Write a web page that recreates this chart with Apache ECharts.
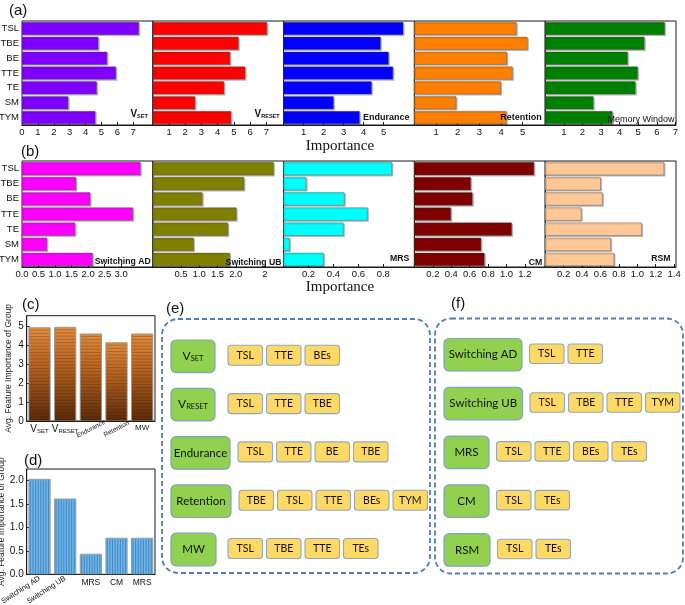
<!DOCTYPE html>
<html><head><meta charset="utf-8">
<script src="https://cdn.jsdelivr.net/npm/echarts@6/dist/echarts.min.js"></script>
<style>html,body{margin:0;padding:0;background:#fff}#c{width:685px;height:605px}</style>
</head><body><div id="c"></div><script>
// ---------------- DATA ----------------
const features = ['TSL','TBE','BE','TTE','TE','SM','TYM'];
// (a)
const vset         = [7.34, 4.79, 5.34, 5.90, 4.69, 2.90, 4.60];
const vreset       = [7.02, 5.27, 4.75, 5.68, 4.38, 2.59, 4.81];
const endurance    = [5.97, 4.84, 5.24, 5.46, 4.39, 2.49, 3.79];
const retention    = [4.70, 5.21, 4.26, 4.52, 3.98, 1.92, 4.24];
const memoryWindow = [6.41, 5.32, 4.42, 4.96, 4.84, 2.58, 3.60];
// (b)
const switchingAD  = [3.58, 1.63, 2.06, 3.35, 1.60, 0.75, 2.13];
const switchingUB  = [3.03, 2.22, 1.08, 2.01, 1.78, 0.84, 1.83];
const mrs          = [0.868, 0.18, 0.487, 0.672, 0.479, 0.046, 0.319];
const cm           = [1.297, 0.61, 0.628, 0.394, 1.055, 0.722, 0.758];
const rsm          = [1.288, 0.60, 0.62, 0.39, 1.046, 0.71, 0.746];
// tick values / labels
const ticksVset = [0,1,2,3,4,5,6,7];
const ticksVreset = [1,2,3,4,5,6,7];
const ticksEndurance = [1,2,3,4,5];
const ticksRetention = [1,2,3,4,5];
const ticksMW = [1,2,3,4,5,6,7];
const ticksAD = [0,0.5,1,1.5,2,2.5,3];
const ticksUB = [0.5,1,1.5,2,2.8];
const labelsUB = ['0.5','1.0','1.5','2.0','2'];
const ticksMRS = [0.2,0.4,0.6,0.8];
const ticksCM = [0.2,0.4,0.6,0.8,1.0,1.2];
const ticksRSM = [0.2,0.4,0.6,0.8,1.0,1.2,1.4];
// (c), (d)
const groupsC = ['V_SET','V_RESET','Endurance','Retention','MW'];
const avgC = [4.91, 4.93, 4.58, 4.12, 4.58];
const ticksC = [0,1,2,3,4,5];
const groupsD = ['Switching AD','Switching UB','MRS','CM','MRS'];
const avgD = [2.03, 1.61, 0.43, 0.77, 0.77];
const ticksD = [0,0.5,1,1.5,2];
// (e), (f)
const eGroups = ['V_SET','V_RESET','Endurance','Retention','MW'];
const eFeatures = [['TSL','TTE','BEs'],['TSL','TTE','TBE'],['TSL','TTE','BE','TBE'],['TBE','TSL','TTE','BEs','TYM'],['TSL','TBE','TTE','TEs']];
const fGroups = ['Switching AD','Switching UB','MRS','CM','RSM'];
const fFeatures = [['TSL','TTE'],['TSL','TBE','TTE','TYM'],['TSL','TTE','BEs','TEs'],['TSL','TEs'],['TSL','TEs']];

// ---------------- STYLE / LAYOUT ----------------
const FONT = '"Liberation Sans", Arial, sans-serif';
const SERIF = '"Liberation Serif", "Times New Roman", serif';
const DFONT = 'Lato, "Open Sans", sans-serif';
const A_LEFT = 22, A_W = 130.8, A_TOP = 21, A_H = 104, B_TOP = 161, B_H = 106;

const panelsA = [
  {values: vset, ticks: ticksVset, min: 0, max: 8.23, color: '#8000FF', label: 'V_SET', pad: 5, bold: true, ly: 114},
  {values: vreset, ticks: ticksVreset, min: 0, max: 8.06, color: '#FF0000', label: 'V_RESET', pad: 4, bold: true, ly: 114},
  {values: endurance, ticks: ticksEndurance, min: 0, max: 6.54, color: '#0000FF', label: 'Endurance', pad: 5, bold: true, ly: 118},
  {values: retention, ticks: ticksRetention, min: 0, max: 6.04, color: '#FF8000', label: 'Retention', pad: 3.5, bold: true, ly: 118},
  {values: memoryWindow, ticks: ticksMW, min: 0, max: 7.03, color: '#008000', label: 'Memory Window', pad: 1.5, bold: false, ly: 119.5}
];
const panelsB = [
  {values: switchingAD, ticks: ticksAD, labels: ticksAD.map(v=>v.toFixed(1)), min: 0, max: 3.96, color: '#FF00FF', label: 'Switching AD', pad: 2, ly: 262},
  {values: switchingUB, ticks: ticksUB, labels: labelsUB, min: -0.274, max: 3.31, color: '#808000', label: 'Switching UB', pad: 2, ly: 262.5},
  {values: mrs, ticks: ticksMRS, labels: ticksMRS.map(v=>v.toFixed(1)), min: 0, max: 1.05, color: '#00FFFF', label: 'MRS', pad: 5, ly: 259},
  {values: cm, ticks: ticksCM, labels: ticksCM.map(v=>v.toFixed(1)), min: 0, max: 1.42, color: '#800000', label: 'CM', pad: 3, ly: 262.5},
  {values: rsm, ticks: ticksRSM, labels: ticksRSM.map(v=>v.toFixed(1)), min: 0, max: 1.42, color: '#FFC896', label: 'RSM', pad: 5.5, ly: 259}
];

function subRich(txt) {
  const k = txt.indexOf('_');
  return k < 0 ? txt : '{v|' + txt.slice(0, k) + '}{s|' + txt.slice(k + 1) + '}';
}

function hbar(color) {
  return function (params, api) {
    const cs = params.coordSys;
    const p = api.coord([api.value(0), api.value(1)]);
    const band = api.size([0, 1])[1];
    const h = band * 0.84;
    return {type: 'rect', shape: {x: cs.x, y: p[1] - h / 2, width: p[0] - cs.x, height: h},
      style: {fill: color, stroke: 'rgba(70,70,70,0.55)', lineWidth: 0.7,
        shadowColor: 'rgba(0,0,0,0.28)', shadowOffsetX: 1.3, shadowOffsetY: 1.2, shadowBlur: 0}};
  };
}
function renderC(params, api) {
  const cs = params.coordSys;
  const p = api.coord([api.value(0), api.value(1)]);
  const w = api.size([1, 0])[0] * 0.83;
  const x = p[0] - w / 2, y0 = p[1], base = cs.y + cs.height;
  const ch = [{type: 'rect', shape: {x, y: y0, width: w, height: base - y0},
    style: {fill: new echarts.graphic.LinearGradient(0, 0, 0, 1, [
      {offset: 0, color: '#E38C3E'}, {offset: 0.45, color: '#B0601F'}, {offset: 1, color: '#5A2A0A'}]),
      stroke: 'rgba(150,150,150,0.9)', lineWidth: 1}}];
  for (let yy = y0 + 2.5; yy < base - 0.5; yy += 3.2) {
    ch.push({type: 'line', shape: {x1: x + 0.5, y1: yy, x2: x + w - 0.5, y2: yy}, style: {stroke: 'rgba(60,22,0,0.3)', lineWidth: 0.8}});
  }
  return {type: 'group', children: ch};
}
function renderD(params, api) {
  const cs = params.coordSys;
  const p = api.coord([api.value(0), api.value(1)]);
  const w = api.size([1, 0])[0] * 0.83;
  const x = p[0] - w / 2, y0 = p[1], base = cs.y + cs.height;
  const ch = [{type: 'rect', shape: {x, y: y0, width: w, height: base - y0},
    style: {fill: '#6DB6E7', stroke: 'rgba(150,150,150,0.9)', lineWidth: 1}}];
  for (let xx = x + 1.5; xx < x + w - 0.5; xx += 2.6) {
    ch.push({type: 'line', shape: {x1: xx, y1: y0 + 1, x2: xx, y2: base}, style: {stroke: 'rgba(30,95,165,0.6)', lineWidth: 0.9}});
  }
  return {type: 'group', children: ch};
}

const grids = [], xAxes = [], yAxes = [], series = [], graphics = [];
function lab(ticks, labels, v) {
  for (let i = 0; i < ticks.length; i++) if (Math.abs(ticks[i] - v) < 1e-6) return labels ? labels[i] : String(ticks[i]);
  return '';
}
function addHPanel(p, row, col) {
  const idx = grids.length;
  const left = A_LEFT + col * A_W;
  const top = row === 0 ? A_TOP : B_TOP;
  const height = row === 0 ? A_H : B_H;
  grids.push({left, top, width: A_W, height, show: true, borderColor: '#1a1a1a', borderWidth: 1, containLabel: false, outerBoundsMode: 'none'});
  xAxes.push({type: 'value', gridIndex: idx, min: p.min, max: p.max, position: 'bottom',
    axisLine: {show: true, onZero: false, lineStyle: {color: '#1a1a1a', width: 1}},
    axisTick: {show: true, inside: true, length: 3, customValues: p.ticks, lineStyle: {color: '#1a1a1a'}},
    axisLabel: {show: true, customValues: p.ticks, margin: 2, fontSize: 9.5, fontFamily: FONT, color: '#111',
      showMinLabel: true, showMaxLabel: true, hideOverlap: false, formatter: v => lab(p.ticks, p.labels, v)},
    splitLine: {show: false}});
  yAxes.push({type: 'category', gridIndex: idx, data: features, inverse: true,
    axisLine: {show: false}, axisTick: {show: true, inside: true, length: 2, alignWithLabel: true, lineStyle: {color: '#1a1a1a'}},
    axisLabel: {show: col === 0, interval: 0, margin: 3, fontSize: 9.5, fontFamily: FONT, color: '#111'}, splitLine: {show: false}});
  series.push({type: 'custom', xAxisIndex: idx, yAxisIndex: idx, encode: {x: 0, y: 1}, clip: true,
    data: p.values.map((v, i) => [v, i]), renderItem: hbar(p.color)});
  // inner label
  const right = left + A_W - p.pad;
  if (row === 0) {
    graphics.push({type: 'text', z: 100, x: right, y: p.ly, style: {text: subRich(p.label), align: 'right', verticalAlign: 'middle',
      fontSize: 9, fontWeight: p.bold ? 'bold' : 'normal', fontFamily: FONT, fill: '#111',
      rich: {v: {fontSize: 10, fontWeight: 'bold', fontFamily: FONT, fill: '#111'}, s: {fontSize: 5.5, fontWeight: 'bold', fontFamily: FONT, fill: '#111', verticalAlign: 'bottom'}}}});
  } else {
    graphics.push({type: 'text', z: 100, x: right, y: p.ly, style: {text: p.label, align: 'right', verticalAlign: 'middle',
      fontSize: 8.7, fontWeight: 'bold', fontFamily: FONT, fill: '#111'}});
  }
}
panelsA.forEach((p, i) => { p.labels = p.ticks.map(String); addHPanel(p, 0, i); });
panelsB.forEach((p, i) => addHPanel(p, 1, i));

// (c) & (d)
const richSub = {v: {fontSize: 10, fontFamily: FONT, color: '#111'}, s: {fontSize: 6, fontFamily: FONT, color: '#111', verticalAlign: 'bottom'}};
function addVPanel(cfg) {
  const idx = grids.length;
  grids.push({left: 26.7, top: cfg.top, width: 128.3, height: 105.3, show: true, borderColor: '#1a1a1a', borderWidth: 1, containLabel: false, outerBoundsMode: 'none'});
  const xi = xAxes.length;
  xAxes.push({type: 'category', gridIndex: idx, data: cfg.groups, position: 'bottom',
    axisLine: {show: true, lineStyle: {color: '#1a1a1a'}}, axisTick: {show: false},
    axisLabel: {interval: 0, margin: cfg.hMargin, fontSize: cfg.hSize, fontFamily: FONT, color: '#111', hideOverlap: false,
      formatter: (v, i) => cfg.hIdx.includes(i) ? subRich(v) : '', rich: richSub}});
  xAxes.push({type: 'category', gridIndex: idx, data: cfg.groups, position: 'bottom',
    axisLine: {show: false}, axisTick: {show: false},
    axisLabel: Object.assign({interval: 0, rotate: cfg.rot, margin: cfg.rMargin, fontSize: cfg.rSize, fontFamily: FONT, color: '#111', hideOverlap: false,
      formatter: (v, i) => cfg.rIdx.includes(i) ? v : ''}, cfg.rAlign)});
  yAxes.push({type: 'value', gridIndex: idx, min: 0, max: cfg.max,
    name: 'Avg. Feature Importance of Group', nameLocation: 'middle', nameGap: 14,
    nameTextStyle: {fontSize: 8.5, fontFamily: FONT, color: '#222'},
    axisLine: {show: true, lineStyle: {color: '#1a1a1a'}},
    axisTick: {show: true, inside: true, length: 3, customValues: cfg.ticks, lineStyle: {color: '#1a1a1a'}},
    axisLabel: {customValues: cfg.ticks, margin: 3, fontSize: 10, fontFamily: FONT, color: '#111', showMaxLabel: true,
      formatter: v => cfg.ticks.some(t => Math.abs(t - v) < 1e-6) ? cfg.fmt(v) : ''},
    splitLine: {show: false}});
  series.push({type: 'custom', xAxisIndex: xi, yAxisIndex: yAxes.length - 1, encode: {x: 0, y: 1}, clip: true,
    data: cfg.values.map((v, i) => [i, v]), renderItem: cfg.render});
}
addVPanel({top: 315.7, groups: groupsC, values: avgC, max: 5.54, ticks: ticksC, fmt: v => String(v), render: renderC,
  hIdx: [0, 1, 4], rIdx: [2, 3], hMargin: 3, hSize: 8, rot: 27, rMargin: 8, rSize: 6.5, rAlign: {align: 'center', verticalAlign: 'middle'}});
addVPanel({top: 469, groups: groupsD, values: avgD, max: 2.25, ticks: ticksD, fmt: v => v.toFixed(1), render: renderD,
  hIdx: [2, 3, 4], rIdx: [0, 1], hMargin: 4, hSize: 8.5, rot: 33, rMargin: 3.5, rSize: 7.5, rAlign: {}});

// titles & axis titles
[['(a)', 9, 11], ['(b)', 21, 152], ['(c)', 22, 305], ['(d)', 24, 461], ['(e)', 166, 309], ['(f)', 451, 304]].forEach(t => {
  graphics.push({type: 'text', z: 100, x: t[1], y: t[2], style: {text: t[0], fontSize: 15, fontFamily: FONT, fill: '#111', align: 'left', verticalAlign: 'middle'}});
});
[146, 287].forEach(y => graphics.push({type: 'text', z: 100, x: 340, y, style: {text: 'Importance', fontSize: 15, fontFamily: SERIF, fill: '#111', align: 'center', verticalAlign: 'middle'}}));

// diagrams (e), (f)
const richG = {v: {fontSize: 12, fontFamily: DFONT, fill: '#111'}, s: {fontSize: 7.5, fontFamily: DFONT, fill: '#111', verticalAlign: 'bottom'}};
function diagram(groups, feats, L) {
  graphics.push({type: 'rect', shape: {x: L.fx, y: L.fy, width: L.fw, height: L.fh, r: 16},
    style: {fill: 'none', stroke: '#4E7EAF', lineWidth: 1.8, lineDash: [5, 3]}});
  groups.forEach((g, r) => {
    const gy = L.gy0 + r * L.gstep;
    const gw = L.gw[r];
    graphics.push({type: 'rect', shape: {x: L.gx, y: gy, width: gw, height: L.gh, r: 5},
      style: {fill: '#92D050', stroke: '#7FA4BD', lineWidth: 1.2}});
    graphics.push({type: 'text', z: 100, x: L.gx + gw / 2, y: gy + L.gh / 2, style: {text: subRich(g), align: 'center', verticalAlign: 'middle',
      fontSize: 11.5, fontFamily: DFONT, fill: '#111', rich: richG}});
    const x0 = Math.max(L.yx0min, L.gx + gw + L.gap);
    const cy = gy + L.gh / 2 - 1;
    feats[r].forEach((f, i) => {
      const x = x0 + i * L.ystep;
      graphics.push({type: 'rect', shape: {x, y: cy - L.yh / 2, width: L.yw, height: L.yh, r: 3},
        style: {fill: '#FFD966', stroke: '#8FA8BE', lineWidth: 1.1}});
      graphics.push({type: 'text', z: 100, x: x + L.yw / 2, y: cy, style: {text: f, align: 'center', verticalAlign: 'middle',
        fontSize: 10.5, fontFamily: DFONT, fill: '#111'}});
    });
  });
}
diagram(eGroups, eFeatures, {fx: 162, fy: 319, fw: 268, fh: 254, gx: 171, gy0: 340, gstep: 48.3, gh: 32.6,
  gw: [44, 44, 59, 60, 45], yw: 34.5, ystep: 38.5, yh: 20, yx0min: 228, gap: 8});
diagram(fGroups, fFeatures, {fx: 435, fy: 318.5, fw: 248, fh: 255, gx: 444, gy0: 338.5, gstep: 48.8, gh: 32.5,
  gw: [78, 78.5, 45, 45, 46], yw: 34.5, ystep: 38.5, yh: 19.5, yx0min: 0, gap: 7.5});

const chart = echarts.init(document.getElementById('c'), null, {renderer: 'canvas', width: 685, height: 605});
chart.setOption({
  animation: false,
  backgroundColor: '#ffffff',
  grid: grids, xAxis: xAxes, yAxis: yAxes, series,
  graphic: {elements: graphics}
});
</script></body></html>
